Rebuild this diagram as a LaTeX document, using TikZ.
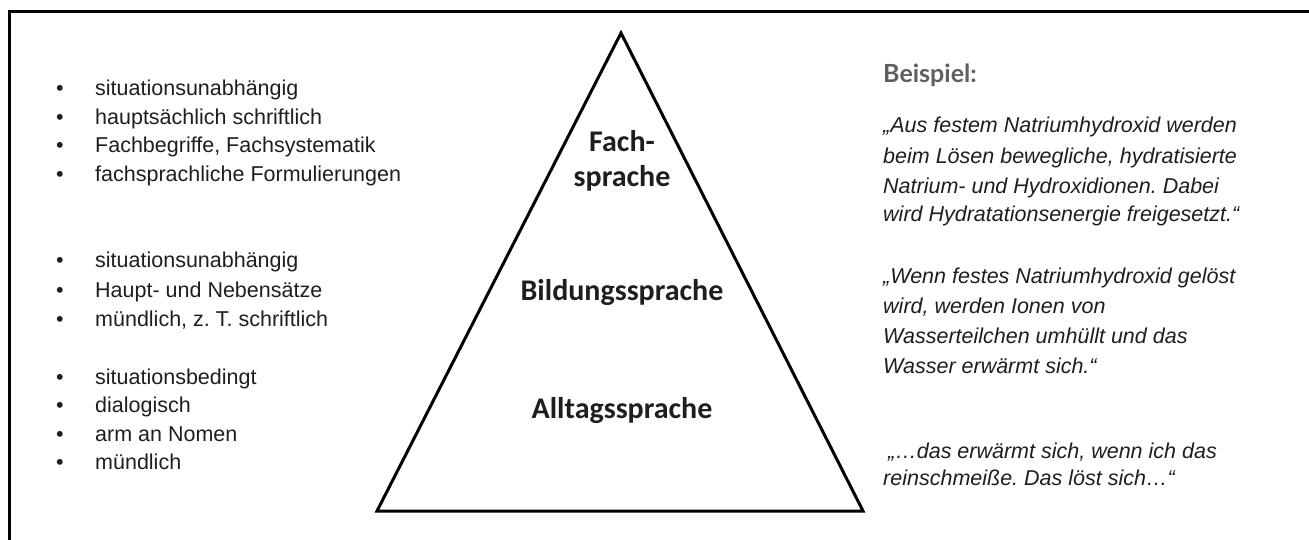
\documentclass[tikz,border=0pt]{standalone}
\usepackage{fontspec}
\setmainfont{Liberation Sans}
\newfontfamily\calibri{Carlito}
\newfontfamily\latofont{Lato}
\definecolor{txt}{HTML}{1E1E1E}
\definecolor{beigray}{HTML}{5F5F5F}
\frenchspacing
\begin{document}
\begin{tikzpicture}[x=1pt,y=-1pt,
  frame/.style={line width=3pt},
  tri/.style={line width=3pt, line join=miter},
  lab/.style={anchor=base, inner sep=0pt, font=\calibri\bfseries\fontsize{30}{36}\selectfont, text=txt},
  btxt/.style={anchor=base west, inner sep=0pt, font=\fontsize{21.5}{26}\selectfont, text=txt},
  bdot/.style={anchor=base, inner sep=0pt, font=\fontsize{21.5}{26}\selectfont, text=txt},
  itxt/.style={anchor=base west, inner sep=0pt, font=\itshape\fontsize{21.5}{26}\selectfont, text=txt},
  head/.style={anchor=base west, inner sep=0pt, font=\latofont\bfseries\fontsize{25}{30}\selectfont, text=beigray}]
\useasboundingbox (0,0) rectangle (1309,540);
% frame (only left and top edges visible)
\coordinate (fb) at (9,548);
\coordinate (fr) at (1320,12);
\draw[frame] (fb) |- (fr);
% pyramid
\coordinate (apex) at (621,33);
\coordinate (bl) at (377,511);
\coordinate (br) at (863,511);
\draw[tri] (bl) -- (apex) -- (br) -- cycle;
\node[lab] (fach) at (622,152) {Fach-};
\node[lab] (sprache) at (622,187) {sprache};
\node[lab] (bild) at (622,300) {Bildungssprache};
\node[lab] (allt) at (622,418) {Alltagssprache};
% left bullets
\foreach \y/\t [count=\i] in {96/situationsunabhängig, 124.5/hauptsächlich schriftlich, 153/{Fachbegriffe, Fachsystematik}, 181.5/fachsprachliche Formulierungen,
  267.7/situationsunabhängig, 297.7/Haupt- und Nebensätze, 326/{mündlich, z. T. schriftlich},
  384.3/situationsbedingt, 412.7/dialogisch, 441/arm an Nomen, 469.3/mündlich}{
  \node[bdot] (dot\i) at (60,\y) {•};
  \node[btxt] (item\i) at (95,\y) {\t};
}
% right side
\node[head] (beispiel) at (883,83) {Beispiel:};
\foreach \y/\t [count=\i] in {132.7/{„Aus festem Natriumhydroxid werden}, 163.7/{beim Lösen bewegliche, hydratisierte}, 193.7/{Natrium- und Hydroxidionen. Dabei}, 222/{wird Hydratationsenergie freigesetzt.“},
  283.7/{„Wenn festes Natriumhydroxid gelöst}, 313.7/{wird, werden Ionen von}, 343.7/{Wasserteilchen umhüllt und das}, 373.7/{Wasser erwärmt sich.“},
  485.3/{reinschmeiße. Das löst sich…“}}{
  \node[itxt] (ex\i) at (883,\y) {\t};
}
\node[itxt] (ex0) at (888,458.7) {„…das erwärmt sich, wenn ich das};
\end{tikzpicture}
\end{document}
